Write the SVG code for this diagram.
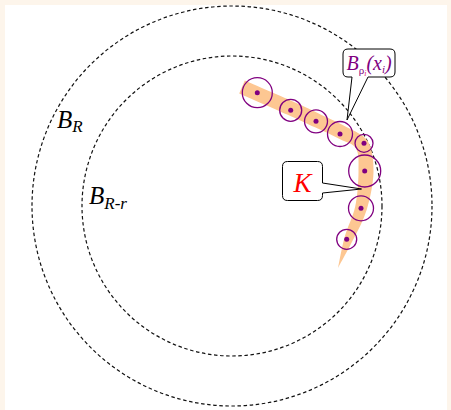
<svg xmlns="http://www.w3.org/2000/svg" width="451" height="410" viewBox="0 0 451 410">
<style>
.dash{fill:none;stroke:#111;stroke-width:1.2;stroke-dasharray:3.5,2.6}
.ball{fill:none;stroke:#800080;stroke-width:1.3}
.dot{fill:#800080}
.call{fill:#fff;stroke:#000;stroke-width:1}
.m{font-family:"Liberation Serif","Times New Roman",serif;font-style:italic}
</style>
<rect x="0" y="0" width="451" height="410" fill="#fdf5eb"/>
<rect x="5" y="5" width="442" height="405" fill="#fff"/>
<g id="ball-R">
<circle class="dash" cx="232" cy="206" r="200"/>
<text class="m" x="57" y="128" font-size="25">B<tspan font-size="17" dy="4">R</tspan></text>
</g>
<g id="ball-R-r">
<circle class="dash" cx="232" cy="206" r="150"/>
<text class="m" x="89" y="204" font-size="25">B<tspan font-size="17" dy="5">R-r</tspan></text>
</g>
<g id="set-K">
<path fill="#fdc792" d="M244.8,80.6 C252.8,84.1 280.2,95.9 292.9,101.6 C305.6,107.3 312.1,110.5 321,114.7 C329.9,118.9 338.6,122.4 346.4,126.9 C354.2,131.4 363.5,133.9 368,141.4 C372.5,148.9 373.7,160.7 373.5,172.1 C373.3,183.5 370.2,198.3 366.8,209.5 C363.4,220.8 358,229.9 353.2,239.6 C348.4,249.4 340.5,263.3 338,268 C339.1,262.7 341.9,246.7 344.8,236.4 C347.7,226.2 352.9,217.3 355.2,206.5 C357.5,195.8 358.4,181.5 358.5,171.9 C358.6,162.3 359.2,154.1 356,148.6 C352.9,143.1 346.4,142.7 339.6,139.1 C332.8,135.5 323.8,131.4 315,127.3 C306.3,123.2 299.7,120.1 287.1,114.4 C274.5,108.8 247.2,96.9 239.2,93.4 Z"/>
</g>
<g id="balls">
<circle class="ball" cx="257.3" cy="92.7" r="15"/><circle class="dot" cx="257.3" cy="92.7" r="2.5"/>
<circle class="ball" cx="290.7" cy="110.3" r="11"/><circle class="dot" cx="290.7" cy="110.3" r="2.5"/>
<circle class="ball" cx="316" cy="121.3" r="11.5"/><circle class="dot" cx="316" cy="121.3" r="2.5"/>
<circle class="ball" cx="340" cy="134" r="12.5"/><circle class="dot" cx="340" cy="134" r="2.5"/>
<circle class="ball" cx="364" cy="143.3" r="9"/><circle class="dot" cx="364" cy="143.3" r="2.5"/>
<circle class="ball" cx="364.7" cy="171" r="16"/><circle class="dot" cx="364.7" cy="171" r="2.5"/>
<circle class="ball" cx="361" cy="208.3" r="12.5"/><circle class="dot" cx="361" cy="208.3" r="2.5"/>
<circle class="ball" cx="346.7" cy="239.3" r="10"/><circle class="dot" cx="346.7" cy="239.3" r="2.5"/>
</g>
<g id="callout-B">
<path class="call" d="M348,49 H390 Q395,49 395,54 V72 Q395,77 390,77 H368 L347,120 L352,77 H348 Q343,77 343,72 V54 Q343,49 348,49 Z"/>
<text class="m" x="346.5" y="70" font-size="20" fill="#800080">B<tspan font-size="11" dy="4" font-style="normal">ρ</tspan><tspan font-size="8" dy="2" fill="#e0206a">i</tspan><tspan dy="-6">(x</tspan><tspan font-size="11" dy="3">i</tspan><tspan dy="-3">)</tspan></text>
</g>
<g id="callout-K">
<path class="call" d="M287.5,161.5 H317.5 Q322.5,161.5 322.5,166.5 V183 L361.5,189 L322.5,193 V195.5 Q322.5,200.5 317.5,200.5 H287.5 Q282.5,200.5 282.5,195.5 V166.5 Q282.5,161.5 287.5,161.5 Z"/>
<text class="m" x="302.5" y="191.5" font-size="27" fill="#ff0000" text-anchor="middle">K</text>
</g>
</svg>
